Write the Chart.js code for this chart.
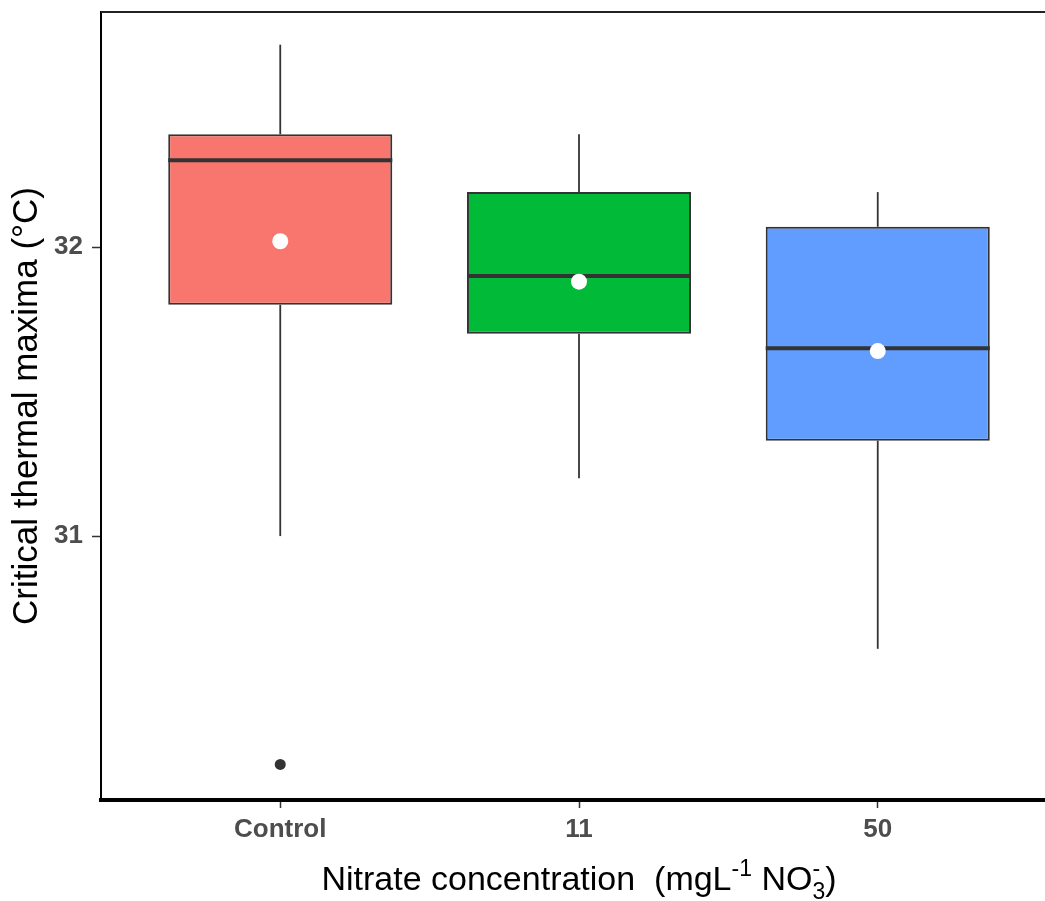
<!DOCTYPE html>
<html>
<head>
<meta charset="utf-8">
<script src="https://cdn.jsdelivr.net/npm/chart.js@4.4.0/dist/chart.umd.min.js"></script>
<style>
  html, body { margin: 0; padding: 0; background: #fff; overflow: hidden; }
  #wrap { width: 1045px; height: 901px; overflow: hidden; }
</style>
</head>
<body>
<div id="wrap"><canvas id="chart" width="1065" height="901"></canvas></div>
<script>
// Données (CTmax par traitement nitrate)
const categories = ['Control', '11', '50'];
const whiskerLow = [31.0, 31.2, 30.61];
const q1 = [31.8, 31.7, 31.33];
const medians = [32.3, 31.9, 31.65];
const q3 = [32.39, 32.19, 32.07];
const whiskerHigh = [32.7, 32.39, 32.19];
const means = [32.02, 31.88, 31.64];
const outlierGroup = [1];
const outlierValue = [30.21];
const yTicks = [31, 32];
const fillColors = ['#F8766D', '#00BA38', '#619CFF'];

const BOX_WIDTH = 0.75;
const LINE_COL = '#333333';

(function () {
  const ctx = document.getElementById('chart').getContext('2d');

  // Boîtes : barres flottantes [q1, q3]
  const datasets = [{
    type: 'bar',
    data: categories.map((c, i) => ({ x: i + 1, y: [q1[i], q3[i]] })),
    backgroundColor: fillColors,
    borderColor: LINE_COL,
    borderWidth: 2,
    borderSkipped: false,
    barPercentage: BOX_WIDTH,
    categoryPercentage: 1,
    order: 5
  }];

  // Moustaches
  categories.forEach((c, i) => {
    [[q3[i], whiskerHigh[i]], [whiskerLow[i], q1[i]]].forEach(seg => {
      datasets.push({
        type: 'line',
        data: [{ x: i + 1, y: seg[0] }, { x: i + 1, y: seg[1] }],
        borderColor: LINE_COL,
        borderWidth: 1.8,
        pointRadius: 0,
        order: 4
      });
    });
  });

  // Médianes
  categories.forEach((c, i) => {
    datasets.push({
      type: 'line',
      data: [{ x: i + 1 - BOX_WIDTH / 2, y: medians[i] }, { x: i + 1 + BOX_WIDTH / 2, y: medians[i] }],
      borderColor: LINE_COL,
      borderWidth: 4,
      borderCapStyle: 'butt',
      pointRadius: 0,
      order: 3
    });
  });

  // Valeurs extrêmes
  datasets.push({
    type: 'scatter',
    data: outlierGroup.map((g, k) => ({ x: g, y: outlierValue[k] })),
    backgroundColor: LINE_COL,
    borderWidth: 0,
    pointRadius: 5.5,
    order: 2
  });

  // Moyennes (points blancs)
  datasets.push({
    type: 'scatter',
    data: means.map((m, i) => ({ x: i + 1, y: m })),
    backgroundColor: '#ffffff',
    borderWidth: 0,
    pointRadius: 8,
    order: 1
  });

  // Cadre haut / droite du panneau
  const panelBorder = {
    id: 'panelBorder',
    afterDatasetsDraw(chart) {
      const a = chart.chartArea;
      const c = chart.ctx;
      c.save();
      c.strokeStyle = '#222';
      c.lineWidth = 2;
      c.beginPath();
      c.moveTo(a.left, a.top);
      c.lineTo(a.right, a.top);
      c.lineTo(a.right, a.bottom);
      c.stroke();
      c.restore();
    }
  };

  // Titre de l'axe X avec exposants / indices
  const xTitle = {
    id: 'xTitle',
    afterDraw(chart) {
      const a = chart.chartArea;
      const c = chart.ctx;
      const big = '34px "Liberation Sans", Arial, sans-serif';
      const small = '23px "Liberation Sans", Arial, sans-serif';
      const parts = [
        { t: 'Nitrate concentration  (mgL', f: big, dy: 0 },
        { t: '-1', f: small, dy: -14 },
        { t: ' NO', f: big, dy: 0 },
        { t: '3', f: small, dy: 9, stack: '-', sdy: -14 },
        { t: ')', f: big, dy: 0 }
      ];
      let total = 0;
      parts.forEach(p => { c.font = p.f; p.w = c.measureText(p.t).width; total += p.w; });
      let x = (a.left + a.right) / 2 - total / 2;
      const base = 890;
      c.save();
      c.fillStyle = '#000';
      c.textBaseline = 'alphabetic';
      c.textAlign = 'left';
      parts.forEach(p => {
        c.font = p.f;
        c.fillText(p.t, x, base + p.dy);
        if (p.stack) c.fillText(p.stack, x, base + p.sdy);
        x += p.w;
      });
      c.restore();
    }
  };

  new Chart(ctx, {
    type: 'bar',
    data: { datasets: datasets },
    plugins: [panelBorder, xTitle],
    options: {
      responsive: false,
      animation: false,
      layout: { padding: { top: 12, right: 3, left: 0, bottom: 0 } },
      plugins: { legend: { display: false }, tooltip: { enabled: false } },
      scales: {
        x: {
          type: 'linear',
          min: 0.4,
          max: 3.6,
          offset: false,
          afterBuildTicks(scale) { scale.ticks = categories.map((c, i) => ({ value: i + 1 })); },
          afterFit(scale) { scale.height = 101; scale.paddingLeft = 0; scale.paddingRight = 0; },
          ticks: {
            callback: v => categories[v - 1],
            color: '#4D4D4D',
            font: { family: '"Liberation Sans", Arial, sans-serif', size: 26, weight: 'bold' },
            padding: 6,
            maxRotation: 0
          },
          grid: { drawOnChartArea: false, offset: false, tickLength: 8, tickColor: LINE_COL, tickWidth: 1.5 },
          border: { display: true, color: '#000', width: 4 }
        },
        y: {
          min: 30.087,
          max: 32.813,
          afterBuildTicks(scale) { scale.ticks = yTicks.map(v => ({ value: v })); },
          afterFit(scale) { scale.width = 101; scale.paddingTop = 0; scale.paddingBottom = 0; },
          ticks: {
            color: '#4D4D4D',
            font: { family: '"Liberation Sans", Arial, sans-serif', size: 26, weight: 'bold' },
            padding: 9
          },
          grid: { drawOnChartArea: false, tickLength: 9, tickColor: LINE_COL, tickWidth: 1.5 },
          border: { display: true, color: '#000', width: 2 },
          title: {
            display: true,
            text: 'Critical thermal maxima (°C)',
            color: '#000',
            font: { family: '"Liberation Sans", Arial, sans-serif', size: 35 },
            padding: { top: 6, bottom: 0 }
          }
        }
      }
    }
  });
})();
</script>
</body>
</html>
